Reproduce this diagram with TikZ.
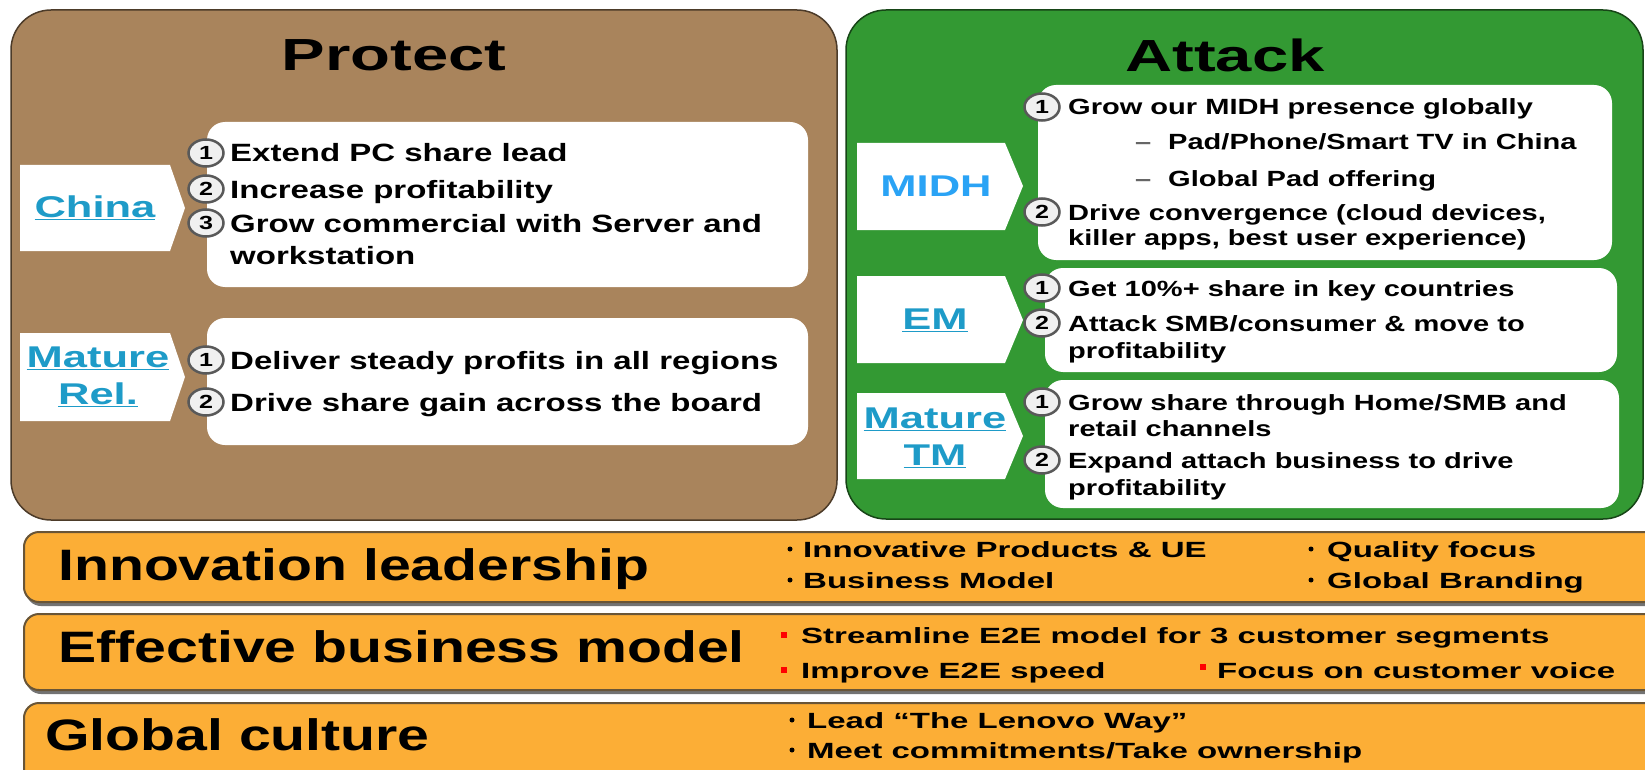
\documentclass[tikz,border=0pt]{standalone}
\usepackage{fontspec}
\setmainfont{Liberation Sans}
\newfontfamily\titlefont[FakeStretch=1.45]{Liberation Sans}
\newfontfamily\bodyfont[FakeStretch=1.32]{Liberation Sans}
\newfontfamily\barfont[FakeStretch=1.3]{Liberation Sans}
\newfontfamily\bulletfont[FakeStretch=1.5]{Liberation Sans}
\usetikzlibrary{shapes.geometric}
\definecolor{protectbrown}{RGB}{169,132,92}
\definecolor{attackgreen}{RGB}{51,153,51}
\definecolor{barorange}{RGB}{252,174,54}
\definecolor{tabblue}{RGB}{30,155,200}
\definecolor{midhblue}{RGB}{42,163,245}
\definecolor{barline}{RGB}{105,85,55}
\begin{document}
\begin{tikzpicture}[x=1pt, y=-1pt,
  boxtitle/.style={inner sep=0, font=\titlefont\bfseries\fontsize{45}{50}\selectfont},
  tablabel/.style={inner sep=0, align=center, text=tabblue, font=\titlefont\bfseries\fontsize{30}{37}\selectfont},
  litem/.style={anchor=base west, inner sep=0, font=\bodyfont\bfseries\fontsize{25}{30}\selectfont},
  ritem/.style={anchor=base west, inner sep=0, font=\bodyfont\bfseries\fontsize{22}{26}\selectfont},
  numdot/.style={ellipse, draw=black!65, line width=2.5, fill=black!6, minimum width=35, minimum height=27, inner sep=0, font=\bodyfont\bfseries\fontsize{19}{19}\selectfont},
  barhead/.style={anchor=base west, inner sep=0, font=\barfont\bfseries\fontsize{44}{50}\selectfont},
  baritem/.style={anchor=base west, inner sep=0, font=\bulletfont\bfseries\fontsize{22}{26}\selectfont}
]

\clip (0,0) rectangle (1645,770);
\fill[white] (0,0) rectangle (1645,770);

\draw[fill=protectbrown, draw=protectbrown!45!black, line width=1.5, rounded corners=40] (11,10) rectangle (837,520);
\draw[fill=attackgreen, draw=attackgreen!45!black, line width=1.5, rounded corners=40] (846,10) rectangle (1643,519);
\node[boxtitle] (protect) at (394,55) {Protect};
\node[boxtitle] (attack) at (1225,55) {Attack};

\fill[white, rounded corners=18] (207,122) rectangle (808,287);
\fill[white] (20,165) -- (170,165) -- (185,208) -- (170,251) -- (20,251) -- cycle;
\node[tablabel] (china) at (95,208) {\underline{China}};
\node[numdot] (cn1) at (206,153) {1};
\node[litem] (cn1t) at (230,162) {Extend PC share lead};
\node[numdot] (cn2) at (206,189) {2};
\node[litem] (cn2t) at (230,198) {Increase profitability};
\node[numdot] (cn3) at (206,223) {3};
\node[litem] (cn3t) at (230,232) {Grow commercial with Server and};
\node[litem] (cn3u) at (230,264) {workstation};

\fill[white, rounded corners=18] (207,318) rectangle (808,445);
\fill[white] (20,333) -- (170,333) -- (185,377) -- (170,421) -- (20,421) -- cycle;
\node[tablabel] (mrel) at (98,377) {\underline{Mature}\\\underline{Rel.}};
\node[numdot] (mr1) at (206,360) {1};
\node[litem] (mr1t) at (230,369) {Deliver steady profits in all regions};
\node[numdot] (mr2) at (206,402) {2};
\node[litem] (mr2t) at (230,411) {Drive share gain across the board};

\fill[white, rounded corners=18] (1038,85) rectangle (1612,260);
\fill[white] (857,143) -- (1005,143) -- (1023,186) -- (1005,230) -- (857,230) -- cycle;
\node[tablabel, text=midhblue] (midh) at (936,186) {MIDH};
\node[numdot] (md1) at (1042,107) {1};
\node[ritem] (md1t) at (1068,115) {Grow our MIDH presence globally};
\node[ritem, text=black!60] (md1a) at (1135,150) {–};
\node[ritem] (md1at) at (1168,150) {Pad/Phone/Smart TV in China};
\node[ritem, text=black!60] (md1b) at (1135,186) {–};
\node[ritem] (md1bt) at (1168,186) {Global Pad offering};
\node[numdot] (md2) at (1042,212) {2};
\node[ritem] (md2t) at (1068,220) {Drive convergence (cloud devices,};
\node[ritem] (md2u) at (1068,245) {killer apps, best user experience)};

\fill[white, rounded corners=18] (1045,268) rectangle (1617,372);
\fill[white] (857,276) -- (1005,276) -- (1023,320) -- (1005,363) -- (857,363) -- cycle;
\node[tablabel] (em) at (935,320) {\underline{EM}};
\node[numdot] (em1) at (1042,288) {1};
\node[ritem] (em1t) at (1068,296) {Get 10\%+ share in key countries};
\node[numdot] (em2) at (1042,323) {2};
\node[ritem] (em2t) at (1068,331) {Attack SMB/consumer \& move to};
\node[ritem] (em2u) at (1068,358) {profitability};

\fill[white, rounded corners=18] (1045,380) rectangle (1619,508);
\fill[white] (857,393) -- (1005,393) -- (1023,436) -- (1005,479) -- (857,479) -- cycle;
\node[tablabel] (mtm) at (935,438) {\underline{Mature}\\\underline{TM}};
\node[numdot] (tm1) at (1042,402) {1};
\node[ritem] (tm1t) at (1068,410) {Grow share through Home/SMB and};
\node[ritem] (tm1u) at (1068,436) {retail channels};
\node[numdot] (tm2) at (1042,460) {2};
\node[ritem] (tm2t) at (1068,468) {Expand attach business to drive};
\node[ritem] (tm2u) at (1068,495) {profitability};

\fill[black!55, rounded corners=15] (26,536) rectangle (1700,606);
\draw[fill=barorange, draw=barline, line width=2, rounded corners=15] (24,532) rectangle (1700,602);
\node[barhead] (innov) at (58,580) {Innovation leadership};
\fill (790,549) circle (2.5);
\node[baritem] (innov1) at (803,557) {Innovative Products \& UE};
\fill (790,580) circle (2.5);
\node[baritem] (innov2) at (803,588) {Business Model};
\fill (1311,549) circle (2.5);
\node[baritem] (innov3) at (1327,557) {Quality focus};
\fill (1311,580) circle (2.5);
\node[baritem] (innov4) at (1327,588) {Global Branding};

\fill[black!55, rounded corners=15] (26,618) rectangle (1700,694);
\draw[fill=barorange, draw=barline, line width=2, rounded corners=15] (24,614) rectangle (1700,690);
\node[barhead] (effect) at (58,662) {Effective business model};
\fill[red] (781,632) rectangle (787,638);
\node[baritem] (effect1) at (801,643) {Streamline E2E model for 3 customer segments};
\fill[red] (781,667) rectangle (787,673);
\node[baritem] (effect2) at (801,678) {Improve E2E speed};
\fill[red] (1200,664) rectangle (1206,670);
\node[baritem] (effect3) at (1217,678) {Focus on customer voice};

\draw[fill=barorange, draw=barline, line width=2, rounded corners=15] (24,703) rectangle (1700,800);
\node[barhead] (culture) at (45,750) {Global culture};
\fill (792,720) circle (2.5);
\node[baritem] (culture1) at (807,728) {Lead “The Lenovo Way”};
\fill (792,750) circle (2.5);
\node[baritem] (culture2) at (807,758) {Meet commitments/Take ownership};

\end{tikzpicture}
\end{document}
